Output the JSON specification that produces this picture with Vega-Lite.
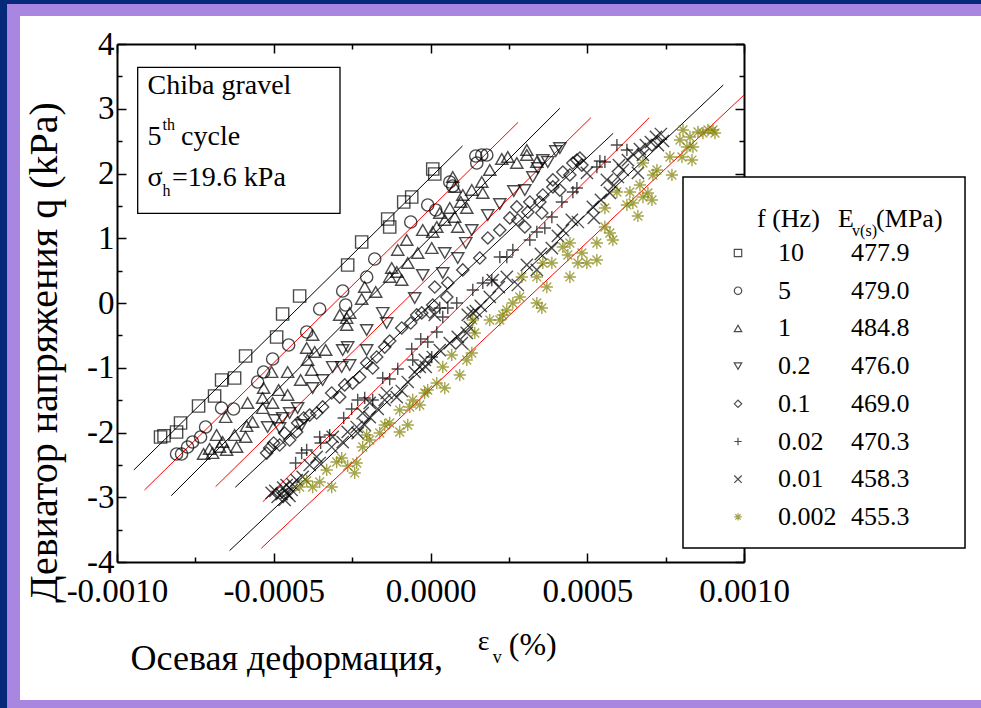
{
"$schema": "https://vega.github.io/schema/vega-lite/v6.json",
"autosize": {"type": "none"},
"width": 627,
"height": 518,
"padding": {"left": 117, "top": 44, "right": 237, "bottom": 146},
"background": "white",
"config": {
 "view": {"stroke": null},
 "axis": {"grid": false, "domainColor": "black", "domainWidth": 2, "tickColor": "black", "tickWidth": 1.5, "labelFont": "Liberation Serif", "labelFontSize": 33, "labelColor": "black", "titleFont": "Liberation Serif", "titleColor": "black", "titleFontWeight": "normal", "labelFlush": false, "labelOverlap": false, "labelBound": false},
 "legend": {"labelFont": "Liberation Serif", "labelColor": "black"},
 "text": {"font": "Liberation Serif", "color": "black"}
},
"resolve": {"axis": {"x": "independent", "y": "independent"}},
"datasets": {
 "fits": [
  {"E": "477.9", "x": -0.0009464, "y": -2.579}, {"E": "477.9", "x": 0.000102, "y": 2.425},
  {"E": "479.0", "x": -0.0009122, "y": -2.888}, {"E": "479.0", "x": 0.0002795, "y": 2.791},
  {"E": "484.8", "x": -0.000827, "y": -2.976}, {"E": "484.8", "x": 0.0004126, "y": 3.007},
  {"E": "476.0", "x": -0.0006856, "y": -2.837}, {"E": "476.0", "x": 0.0005116, "y": 2.862},
  {"E": "469.0", "x": -0.0006227, "y": -2.846}, {"E": "469.0", "x": 0.0005828, "y": 2.621},
  {"E": "470.3", "x": -0.0005346, "y": -3.069}, {"E": "470.3", "x": 0.0006977, "y": 2.862},
  {"E": "458.3", "x": -0.0006409, "y": -3.825}, {"E": "458.3", "x": 0.0009339, "y": 3.367},
  {"E": "455.3", "x": -0.0005397, "y": -3.788}, {"E": "455.3", "x": 0.001, "y": 3.212}
 ],
 "pts": [
  {"f":"10","x":-0.0008611,"y":-2.069},{"f":"10","x":-0.000850,"y":-2.05},{"f":"10","x":-0.00081,"y":-1.992},{"f":"10","x":-0.0007973,"y":-1.853},{"f":"10","x":-0.0007398,"y":-1.591},{"f":"10","x":-0.0006887,"y":-1.436},{"f":"10","x":-0.0006664,"y":-1.189},{"f":"10","x":-0.0006249,"y":-1.158},{"f":"10","x":-0.0005898,"y":-0.819},{"f":"10","x":-0.0004908,"y":-0.525},{"f":"10","x":-0.0004717,"y":-0.17},{"f":"10","x":-0.0004174,"y":0.108},{"f":"10","x":-0.0002642,"y":0.587},{"f":"10","x":-0.0002195,"y":0.942},{"f":"10","x":-0.0001365,"y":1.297},{"f":"10","x":-0.0001301,"y":1.174},{"f":"10","x":-0.0000854,"y":1.56},{"f":"10","x":-0.0000599,"y":1.637},{"f":"10","x":0.0000072,"y":2.069},{"f":"10","x":0.0000136,"y":1.992},
  {"f":"5","x":-0.00081,"y":-2.332},{"f":"5","x":-0.0007941,"y":-2.332},{"f":"5","x":-0.0007749,"y":-2.224},{"f":"5","x":-0.000759,"y":-2.147},{"f":"5","x":-0.0007334,"y":-2.069},{"f":"5","x":-0.0007175,"y":-1.915},{"f":"5","x":-0.0006664,"y":-1.622},{"f":"5","x":-0.0006281,"y":-1.637},{"f":"5","x":-0.0005515,"y":-1.22},{"f":"5","x":-0.0005323,"y":-1.066},{"f":"5","x":-0.0005036,"y":-0.865},{"f":"5","x":-0.0004525,"y":-0.649},{"f":"5","x":-0.000395,"y":-0.448},{"f":"5","x":-0.0003535,"y":-0.093},{"f":"5","x":-0.0002801,"y":0.185},{"f":"5","x":-0.0002706,"y":-0.031},{"f":"5","x":-0.0002035,"y":0.402},{"f":"5","x":-0.000178,"y":0.68},{"f":"5","x":-0.000063,"y":1.251},{"f":"5","x":-0.0000088,"y":1.514},{"f":"5","x":0.0000168,"y":1.436},{"f":"5","x":0.0000615,"y":1.869},{"f":"5","x":0.000071,"y":1.807},{"f":"5","x":0.0001445,"y":2.27},{"f":"5","x":0.0001476,"y":2.162},{"f":"5","x":0.0001636,"y":2.286},{"f":"5","x":0.0001796,"y":2.286},
  {"f":"1","x":-0.0007238,"y":-2.332},{"f":"1","x":-0.0007047,"y":-2.255},{"f":"1","x":-0.0006951,"y":-2.317},{"f":"1","x":-0.0006823,"y":-2.039},{"f":"1","x":-0.0006728,"y":-2.224},{"f":"1","x":-0.0006504,"y":-2.27},{"f":"1","x":-0.0006632,"y":-2.147},{"f":"1","x":-0.0006536,"y":-1.761},{"f":"1","x":-0.0006185,"y":-2.224},{"f":"1","x":-0.0006249,"y":-2.039},{"f":"1","x":-0.0005898,"y":-2.069},{"f":"1","x":-0.0005834,"y":-1.544},{"f":"1","x":-0.0005866,"y":-1.9},{"f":"1","x":-0.0005674,"y":-1.838},{"f":"1","x":-0.0005355,"y":-1.622},{"f":"1","x":-0.0005355,"y":-1.467},{"f":"1","x":-0.0005323,"y":-1.313},{"f":"1","x":-0.0005036,"y":-1.544},{"f":"1","x":-0.0005068,"y":-1.066},{"f":"1","x":-0.0004844,"y":-1.344},{"f":"1","x":-0.0004557,"y":-1.421},{"f":"1","x":-0.0004557,"y":-1.066},{"f":"1","x":-0.0004142,"y":-1.189},{"f":"1","x":-0.0003919,"y":-0.88},{"f":"1","x":-0.0003791,"y":-1.035},{"f":"1","x":-0.000395,"y":-0.695},{"f":"1","x":-0.0003695,"y":-0.757},{"f":"1","x":-0.0003759,"y":-0.494},{"f":"1","x":-0.0003344,"y":-0.726},{"f":"1","x":-0.0002897,"y":-0.185},{"f":"1","x":-0.0002674,"y":-0.232},{"f":"1","x":-0.0002674,"y":-0.34},{"f":"1","x":-0.0002578,"y":-0.154},{"f":"1","x":-0.0002195,"y":0.062},{"f":"1","x":-0.0002099,"y":0.247},{"f":"1","x":-0.0001748,"y":0.17},{"f":"1","x":-0.0001301,"y":0.402},{"f":"1","x":-0.0001237,"y":0.541},{"f":"1","x":-0.0001077,"y":0.479},{"f":"1","x":-0.0000918,"y":0.355},{"f":"1","x":-0.0001045,"y":0.819},{"f":"1","x":-0.0000758,"y":0.973},{"f":"1","x":-0.0000726,"y":0.618},{"f":"1","x":-0.0000407,"y":0.772},{"f":"1","x":-0.0000247,"y":1.127},{"f":"1","x":0.0000072,"y":1.097},{"f":"1","x":0.000004,"y":0.849},{"f":"1","x":0.00002,"y":1.174},{"f":"1","x":0.0000295,"y":1.39},{"f":"1","x":0.0000455,"y":1.282},{"f":"1","x":0.0000615,"y":1.467},{"f":"1","x":0.000087,"y":1.174},{"f":"1","x":0.0000966,"y":1.56},{"f":"1","x":0.000103,"y":1.668},{"f":"1","x":0.000071,"y":1.946},{"f":"1","x":0.0000774,"y":1.792},{"f":"1","x":0.0001157,"y":1.467},{"f":"1","x":0.0001317,"y":1.745},{"f":"1","x":0.0001636,"y":1.869},{"f":"1","x":0.0001668,"y":1.699},{"f":"1","x":0.0001891,"y":2.054},{"f":"1","x":0.0002275,"y":2.224},{"f":"1","x":0.0002466,"y":2.255},{"f":"1","x":0.0002753,"y":2.162},{"f":"1","x":0.0003073,"y":2.363},{"f":"1","x":0.0003073,"y":2.286},{"f":"1","x":0.0003392,"y":2.178},{"f":"1","x":0.0000774,"y":1.328},
  {"f":"0.2","x":-0.0005195,"y":-1.915},{"f":"0.2","x":-0.0004972,"y":-1.807},{"f":"0.2","x":-0.0004717,"y":-1.776},{"f":"0.2","x":-0.0004812,"y":-1.931},{"f":"0.2","x":-0.0004493,"y":-1.699},{"f":"0.2","x":-0.0004238,"y":-1.622},{"f":"0.2","x":-0.000411,"y":-1.884},{"f":"0.2","x":-0.0003759,"y":-1.313},{"f":"0.2","x":-0.000344,"y":-1.189},{"f":"0.2","x":-0.000312,"y":-0.988},{"f":"0.2","x":-0.0002833,"y":-0.988},{"f":"0.2","x":-0.0002578,"y":-0.958},{"f":"0.2","x":-0.0002642,"y":-0.68},{"f":"0.2","x":-0.0002801,"y":-0.726},{"f":"0.2","x":-0.0002035,"y":-0.417},{"f":"0.2","x":-0.0002035,"y":-0.726},{"f":"0.2","x":-0.0001524,"y":-0.154},{"f":"0.2","x":-0.0001397,"y":-0.309},{"f":"0.2","x":-0.0000503,"y":0.077},{"f":"0.2","x":-0.0000247,"y":0.432},{"f":"0.2","x":0.0000455,"y":0.772},{"f":"0.2","x":0.0000391,"y":0.463},{"f":"0.2","x":0.000087,"y":0.695},{"f":"0.2","x":0.0001125,"y":0.927},{"f":"0.2","x":0.0001317,"y":1.127},{"f":"0.2","x":0.0001828,"y":1.359},{"f":"0.2","x":0.0002211,"y":1.529},{"f":"0.2","x":0.0002658,"y":1.73},{"f":"0.2","x":0.0003009,"y":1.745},{"f":"0.2","x":0.0003264,"y":1.946},{"f":"0.2","x":0.0003424,"y":2.085},{"f":"0.2","x":0.0003583,"y":2.208},{"f":"0.2","x":0.0003743,"y":2.178},{"f":"0.2","x":0.0003998,"y":2.347},{"f":"0.2","x":0.0004126,"y":2.394},
  {"f":"0.1","x":-0.0005227,"y":-2.317},{"f":"0.1","x":-0.0005132,"y":-2.239},{"f":"0.1","x":-0.0005004,"y":-2.162},{"f":"0.1","x":-0.0004812,"y":-2.193},{"f":"0.1","x":-0.0004653,"y":-2.008},{"f":"0.1","x":-0.0004493,"y":-2.116},{"f":"0.1","x":-0.000427,"y":-1.992},{"f":"0.1","x":-0.0004238,"y":-1.853},{"f":"0.1","x":-0.0004046,"y":-1.776},{"f":"0.1","x":-0.0003855,"y":-1.73},{"f":"0.1","x":-0.0003631,"y":-1.699},{"f":"0.1","x":-0.000344,"y":-1.606},{"f":"0.1","x":-0.0003152,"y":-1.39},{"f":"0.1","x":-0.0002897,"y":-1.452},{"f":"0.1","x":-0.0002737,"y":-1.266},{"f":"0.1","x":-0.0002482,"y":-1.236},{"f":"0.1","x":-0.0002259,"y":-1.143},{"f":"0.1","x":-0.0002035,"y":-0.927},{"f":"0.1","x":-0.0001844,"y":-1.004},{"f":"0.1","x":-0.0001716,"y":-0.834},{"f":"0.1","x":-0.000146,"y":-0.68},{"f":"0.1","x":-0.0001301,"y":-0.587},{"f":"0.1","x":-0.0000918,"y":-0.386},{"f":"0.1","x":-0.000063,"y":-0.309},{"f":"0.1","x":-0.0000439,"y":-0.185},{"f":"0.1","x":-0.0000279,"y":-0.154},{"f":"0.1","x":-0.0000024,"y":-0.139},{"f":"0.1","x":0.0000072,"y":-0.031},{"f":"0.1","x":0.0000136,"y":0.247},{"f":"0.1","x":0.0000551,"y":0.309},{"f":"0.1","x":0.0000519,"y":0.093},{"f":"0.1","x":0.000103,"y":0.51},{"f":"0.1","x":0.0001572,"y":0.695},{"f":"0.1","x":0.0001828,"y":1.004},{"f":"0.1","x":0.0002211,"y":1.127},{"f":"0.1","x":0.000253,"y":1.313},{"f":"0.1","x":0.0002785,"y":1.282},{"f":"0.1","x":0.0002753,"y":1.483},{"f":"0.1","x":0.0003009,"y":1.174},{"f":"0.1","x":0.0003105,"y":1.405},{"f":"0.1","x":0.0003168,"y":1.56},{"f":"0.1","x":0.0003488,"y":1.56},{"f":"0.1","x":0.0003551,"y":1.39},{"f":"0.1","x":0.0003583,"y":1.668},{"f":"0.1","x":0.0003903,"y":1.9},{"f":"0.1","x":0.0003903,"y":1.792},{"f":"0.1","x":0.0004126,"y":1.745},{"f":"0.1","x":0.0004222,"y":2.023},{"f":"0.1","x":0.0004445,"y":1.977},{"f":"0.1","x":0.0004541,"y":2.162},{"f":"0.1","x":0.0004669,"y":2.208},{"f":"0.1","x":0.0004828,"y":2.131},{"f":"0.1","x":0.0004764,"y":2.239},
  {"f":"0.02","x":-0.0004302,"y":-2.471},{"f":"0.02","x":-0.000411,"y":-2.317},{"f":"0.02","x":-0.000395,"y":-2.27},{"f":"0.02","x":-0.0003535,"y":-2.069},{"f":"0.02","x":-0.0003504,"y":-2.162},{"f":"0.02","x":-0.0003216,"y":-2.039},{"f":"0.02","x":-0.0002769,"y":-1.776},{"f":"0.02","x":-0.0002514,"y":-1.637},{"f":"0.02","x":-0.0002322,"y":-1.498},{"f":"0.02","x":-0.0002099,"y":-1.467},{"f":"0.02","x":-0.0001844,"y":-1.498},{"f":"0.02","x":-0.0001524,"y":-1.158},{"f":"0.02","x":-0.0001301,"y":-1.174},{"f":"0.02","x":-0.0001045,"y":-1.019},{"f":"0.02","x":-0.0000599,"y":-0.71},{"f":"0.02","x":-0.0000567,"y":-0.88},{"f":"0.02","x":-0.0000311,"y":-0.556},{"f":"0.02","x":-0.0000088,"y":-0.602},{"f":"0.02","x":0.000004,"y":-0.834},{"f":"0.02","x":0.00002,"y":-0.448},{"f":"0.02","x":0.0000391,"y":-0.216},{"f":"0.02","x":0.0000551,"y":-0.077},{"f":"0.02","x":0.0000838,"y":0.0},{"f":"0.02","x":0.0000295,"y":-0.077},{"f":"0.02","x":0.0001349,"y":0.201},{"f":"0.02","x":0.0001668,"y":0.309},{"f":"0.02","x":0.0001955,"y":0.355},{"f":"0.02","x":0.0002211,"y":0.71},{"f":"0.02","x":0.0002434,"y":0.71},{"f":"0.02","x":0.0002626,"y":0.819},{"f":"0.02","x":0.0003168,"y":0.973},{"f":"0.02","x":0.0003392,"y":1.097},{"f":"0.02","x":0.0003647,"y":1.158},{"f":"0.02","x":0.0003871,"y":1.328},{"f":"0.02","x":0.000419,"y":1.56},{"f":"0.02","x":0.0004541,"y":1.714},{"f":"0.02","x":0.0004669,"y":1.776},{"f":"0.02","x":0.0005307,"y":2.1},{"f":"0.02","x":0.0005563,"y":2.178},{"f":"0.02","x":0.0005946,"y":2.44},{"f":"0.02","x":0.0006265,"y":2.363},{"f":"0.02","x":0.0005403,"y":2.193},
  {"f":"0.01","x":-0.0005068,"y":-2.934},{"f":"0.01","x":-0.0004876,"y":-2.996},{"f":"0.01","x":-0.0004653,"y":-3.042},{"f":"0.01","x":-0.0004589,"y":-2.934},{"f":"0.01","x":-0.0004429,"y":-2.888},{"f":"0.01","x":-0.000427,"y":-2.734},{"f":"0.01","x":-0.0004078,"y":-2.687},{"f":"0.01","x":-0.0003855,"y":-2.502},{"f":"0.01","x":-0.0003631,"y":-2.378},{"f":"0.01","x":-0.0004589,"y":-2.811},{"f":"0.01","x":-0.000495,"y":-2.9},{"f":"0.01","x":-0.000475,"y":-2.95},{"f":"0.01","x":-0.00045,"y":-2.98},{"f":"0.01","x":-0.00044,"y":-2.8},{"f":"0.01","x":-0.00047,"y":-2.85},{"f":"0.01","x":-0.0003535,"y":-2.471},{"f":"0.01","x":-0.0003152,"y":-2.224},{"f":"0.01","x":-0.000312,"y":-2.069},{"f":"0.01","x":-0.0002801,"y":-2.147},{"f":"0.01","x":-0.0002642,"y":-1.992},{"f":"0.01","x":-0.0002354,"y":-1.915},{"f":"0.01","x":-0.0002322,"y":-2.008},{"f":"0.01","x":-0.0002163,"y":-1.699},{"f":"0.01","x":-0.0002099,"y":-1.884},{"f":"0.01","x":-0.0001939,"y":-1.544},{"f":"0.01","x":-0.0001939,"y":-1.761},{"f":"0.01","x":-0.0001684,"y":-1.637},{"f":"0.01","x":-0.000146,"y":-1.498},{"f":"0.01","x":-0.0001397,"y":-1.39},{"f":"0.01","x":-0.0001077,"y":-1.452},{"f":"0.01","x":-0.0000918,"y":-1.359},{"f":"0.01","x":-0.0000726,"y":-1.22},{"f":"0.01","x":-0.0000503,"y":-1.066},{"f":"0.01","x":-0.0000343,"y":-0.988},{"f":"0.01","x":-0.0000184,"y":-0.88},{"f":"0.01","x":-0.0000152,"y":-0.988},{"f":"0.01","x":0.0000072,"y":-0.834},{"f":"0.01","x":0.0000295,"y":-0.726},{"f":"0.01","x":0.0000615,"y":-0.618},{"f":"0.01","x":0.000087,"y":-0.525},{"f":"0.01","x":0.0000998,"y":-0.618},{"f":"0.01","x":0.0001157,"y":-0.463},{"f":"0.01","x":0.0001253,"y":-0.371},{"f":"0.01","x":0.0001349,"y":-0.154},{"f":"0.01","x":0.0000136,"y":-0.185},{"f":"0.01","x":0.0001189,"y":-0.185},{"f":"0.01","x":0.0001445,"y":-0.124},{"f":"0.01","x":0.0001604,"y":-0.046},{"f":"0.01","x":0.0001891,"y":0.093},{"f":"0.01","x":0.0001987,"y":0.355},{"f":"0.01","x":0.0002179,"y":0.247},{"f":"0.01","x":0.0002434,"y":0.402},{"f":"0.01","x":0.0002785,"y":0.278},{"f":"0.01","x":0.0003073,"y":0.587},{"f":"0.01","x":0.0003392,"y":0.51},{"f":"0.01","x":0.000352,"y":0.757},{"f":"0.01","x":0.0003871,"y":0.849},{"f":"0.01","x":0.0004062,"y":1.035},{"f":"0.01","x":0.0004222,"y":1.127},{"f":"0.01","x":0.0004509,"y":1.282},{"f":"0.01","x":0.0004701,"y":1.251},{"f":"0.01","x":0.0005179,"y":1.483},{"f":"0.01","x":0.0005211,"y":1.313},{"f":"0.01","x":0.0005435,"y":1.591},{"f":"0.01","x":0.0005626,"y":1.9},{"f":"0.01","x":0.0005722,"y":1.699},{"f":"0.01","x":0.000585,"y":1.822},{"f":"0.01","x":0.0005977,"y":1.946},{"f":"0.01","x":0.0006009,"y":2.131},{"f":"0.01","x":0.0006137,"y":2.054},{"f":"0.01","x":0.0006297,"y":2.208},{"f":"0.01","x":0.0006456,"y":2.301},{"f":"0.01","x":0.0006616,"y":2.008},{"f":"0.01","x":0.000668,"y":2.378},{"f":"0.01","x":0.0006775,"y":2.286},{"f":"0.01","x":0.0006871,"y":2.44},{"f":"0.01","x":0.0007031,"y":2.486},{"f":"0.01","x":0.0007191,"y":2.564},{"f":"0.01","x":0.0007254,"y":2.44},{"f":"0.01","x":0.000735,"y":2.61},{"f":"0.01","x":0.0007414,"y":2.502},{"f":"0.01","x":0.0004988,"y":2.008},
  {"f":"0.002","x":-0.0004174,"y":-2.842},{"f":"0.002","x":-0.000395,"y":-2.749},{"f":"0.002","x":-0.0003759,"y":-2.842},{"f":"0.002","x":-0.0003535,"y":-2.764},{"f":"0.002","x":-0.0003312,"y":-2.579},{"f":"0.002","x":-0.0003152,"y":-2.842},{"f":"0.002","x":-0.0002993,"y":-2.456},{"f":"0.002","x":-0.0002833,"y":-2.394},{"f":"0.002","x":-0.0002642,"y":-2.517},{"f":"0.002","x":-0.0002418,"y":-2.625},{"f":"0.002","x":-0.0002354,"y":-2.471},{"f":"0.002","x":-0.0002163,"y":-2.224},{"f":"0.002","x":-0.0002035,"y":-2.039},{"f":"0.002","x":-0.0001939,"y":-2.116},{"f":"0.002","x":-0.000162,"y":-2.008},{"f":"0.002","x":-0.000146,"y":-1.884},{"f":"0.002","x":-0.0001301,"y":-1.853},{"f":"0.002","x":-0.0000982,"y":-1.992},{"f":"0.002","x":-0.0000982,"y":-1.653},{"f":"0.002","x":-0.0000726,"y":-1.884},{"f":"0.002","x":-0.0000662,"y":-1.606},{"f":"0.002","x":-0.0000567,"y":-1.498},{"f":"0.002","x":-0.0000343,"y":-1.575},{"f":"0.002","x":-0.0000184,"y":-1.39},{"f":"0.002","x":-0.0000088,"y":-1.344},{"f":"0.002","x":0.00002,"y":-1.236},{"f":"0.002","x":0.0000391,"y":-0.988},{"f":"0.002","x":0.0000455,"y":-1.313},{"f":"0.002","x":0.0000678,"y":-0.803},{"f":"0.002","x":0.0000934,"y":-1.112},{"f":"0.002","x":0.0001157,"y":-0.88},{"f":"0.002","x":0.0001317,"y":-0.772},{"f":"0.002","x":0.0001413,"y":-0.463},{"f":"0.002","x":0.0001349,"y":-0.263},{"f":"0.002","x":0.0001891,"y":-0.263},{"f":"0.002","x":0.0002211,"y":-0.263},{"f":"0.002","x":0.0002306,"y":-0.185},{"f":"0.002","x":0.0002434,"y":-0.108},{"f":"0.002","x":0.0002626,"y":0.0},{"f":"0.002","x":0.0002849,"y":0.093},{"f":"0.002","x":0.0002913,"y":0.402},{"f":"0.002","x":0.0003392,"y":0.402},{"f":"0.002","x":0.0003392,"y":0.0},{"f":"0.002","x":0.0003551,"y":-0.077},{"f":"0.002","x":0.0003711,"y":0.247},{"f":"0.002","x":0.0003583,"y":0.618},{"f":"0.002","x":0.0003871,"y":0.618},{"f":"0.002","x":0.0004222,"y":0.865},{"f":"0.002","x":0.0004381,"y":0.741},{"f":"0.002","x":0.0004445,"y":0.927},{"f":"0.002","x":0.0004445,"y":0.402},{"f":"0.002","x":0.0004701,"y":0.618},{"f":"0.002","x":0.0004828,"y":0.772},{"f":"0.002","x":0.0004988,"y":0.618},{"f":"0.002","x":0.0005307,"y":0.664},{"f":"0.002","x":0.0005307,"y":0.927},{"f":"0.002","x":0.0005563,"y":1.174},{"f":"0.002","x":0.0005563,"y":1.467},{"f":"0.002","x":0.0005722,"y":1.081},{"f":"0.002","x":0.0005818,"y":0.973},{"f":"0.002","x":0.0005946,"y":1.714},{"f":"0.002","x":0.0006265,"y":1.514},{"f":"0.002","x":0.0006361,"y":1.714},{"f":"0.002","x":0.0006456,"y":1.544},{"f":"0.002","x":0.0006616,"y":1.344},{"f":"0.002","x":0.000668,"y":1.822},{"f":"0.002","x":0.0006776,"y":1.637},{"f":"0.002","x":0.0006776,"y":2.162},{"f":"0.002","x":0.0006935,"y":1.699},{"f":"0.002","x":0.0007063,"y":1.591},{"f":"0.002","x":0.0007095,"y":1.977},{"f":"0.002","x":0.0007223,"y":2.054},{"f":"0.002","x":0.0007638,"y":2.255},{"f":"0.002","x":0.0007701,"y":1.977},{"f":"0.002","x":0.0007957,"y":2.517},{"f":"0.002","x":0.0008021,"y":2.255},{"f":"0.002","x":0.0008053,"y":2.672},{"f":"0.002","x":0.000818,"y":2.409},{"f":"0.002","x":0.0008276,"y":2.564},{"f":"0.002","x":0.000834,"y":2.208},{"f":"0.002","x":0.0008372,"y":2.409},{"f":"0.002","x":0.0008531,"y":2.641},{"f":"0.002","x":0.0008691,"y":2.625},{"f":"0.002","x":0.0008851,"y":2.672},{"f":"0.002","x":0.000901,"y":2.672},{"f":"0.002","x":0.0009074,"y":2.625}
 ]
},
"layer": [
 {"data": {"values": [{}]}, "mark": {"type": "rect", "fill": "#06297a"},
  "encoding": {"x": {"datum": -0.0016, "type": "quantitative", "axis": null}, "x2": {"datum": 0.003}, "y": {"datum": 5.5, "type": "quantitative", "axis": null}, "y2": {"datum": 4.618}}},
 {"data": {"values": [{}]}, "mark": {"type": "rect", "fill": "#06297a"},
  "encoding": {"x": {"datum": -0.0016, "type": "quantitative", "axis": null}, "x2": {"datum": -0.0013493}, "y": {"datum": 5.5, "type": "quantitative", "axis": null}, "y2": {"datum": -9}}},
 {"data": {"values": [{}]}, "mark": {"type": "rect", "fill": "#a987e0"},
  "encoding": {"x": {"datum": -0.0013493, "type": "quantitative", "axis": null}, "x2": {"datum": 0.003}, "y": {"datum": 4.618, "type": "quantitative", "axis": null}, "y2": {"datum": 4.432}}},
 {"data": {"values": [{}]}, "mark": {"type": "rect", "fill": "#a987e0"},
  "encoding": {"x": {"datum": -0.0013493, "type": "quantitative", "axis": null}, "x2": {"datum": -0.0013094}, "y": {"datum": 4.618, "type": "quantitative", "axis": null}, "y2": {"datum": -9}}},
 {"data": {"values": [{}]}, "mark": {"type": "rect", "fill": "#a987e0"},
  "encoding": {"x": {"datum": -0.0013493, "type": "quantitative", "axis": null}, "x2": {"datum": 0.003}, "y": {"datum": -6.131, "type": "quantitative", "axis": null}, "y2": {"datum": -9}}},
 {"data": {"values": [{}]}, "mark": {"type": "rect", "fill": "white", "stroke": "black", "strokeWidth": 1.3},
  "encoding": {"x": {"datum": -0.000934, "type": "quantitative", "axis": null}, "x2": {"datum": -0.0002887}, "y": {"datum": 3.64, "type": "quantitative", "axis": null}, "y2": {"datum": 1.385}}},
 {"data": {"name": "fits"}, "mark": {"type": "line", "strokeWidth": 1},
  "encoding": {
   "x": {"field": "x", "type": "quantitative", "scale": {"domain": [-0.001, 0.001], "nice": false, "zero": false},
     "axis": {"orient": "top", "values": [-0.001,-0.00075,-0.0005,-0.00025,0,0.00025,0.0005,0.00075,0.001], "labels": false, "title": null,
       "tickSize": {"condition": {"test": "abs(datum.value*2000-round(datum.value*2000))<0.01", "value": -9}, "value": -5}}},
   "y": {"field": "y", "type": "quantitative", "scale": {"domain": [-4, 4], "nice": false, "zero": false},
     "axis": {"orient": "right", "values": [-4,-3.5,-3,-2.5,-2,-1.5,-1,-0.5,0,0.5,1,1.5,2,2.5,3,3.5,4], "labels": false, "title": null,
       "tickSize": {"condition": {"test": "datum.value==round(datum.value)", "value": -9}, "value": -5}}},
   "color": {"field": "E", "type": "nominal", "scale": {"domain": ["477.9","479.0","484.8","476.0","469.0","470.3","458.3","455.3"], "range": ["black","#ff0000","black","#ff0000","black","#ff0000","black","#ff0000"]},
     "legend": {"orient": "none", "legendX": 708, "legendY": 196, "title": null, "padding": 0, "labelFontSize": 26, "symbolType": "circle", "symbolSize": 1, "symbolOpacity": 0, "symbolStrokeWidth": 0, "labelOffset": 0, "rowPadding": 11.7}}
  }},
 {"data": {"name": "pts"}, "mark": {"type": "point", "filled": false, "strokeWidth": 1.4, "size": 150},
  "encoding": {
   "x": {"field": "x", "type": "quantitative", "scale": {"domain": [-0.001, 0.001], "nice": false, "zero": false},
     "axis": {"orient": "bottom", "values": [-0.001,-0.00075,-0.0005,-0.00025,0,0.00025,0.0005,0.00075,0.001], "title": null, "labelPadding": 22,
       "labelExpr": "abs(datum.value*2000-round(datum.value*2000))<0.01 ? replace(format(datum.value,'.4f'),'\u2212','-') : ''",
       "tickSize": {"condition": {"test": "abs(datum.value*2000-round(datum.value*2000))<0.01", "value": -9}, "value": -5}}},
   "y": {"field": "y", "type": "quantitative", "scale": {"domain": [-4, 4], "nice": false, "zero": false},
     "axis": {"orient": "left", "values": [-4,-3.5,-3,-2.5,-2,-1.5,-1,-0.5,0,0.5,1,1.5,2,2.5,3,3.5,4], "labelPadding": 12,
       "labelExpr": "datum.value==round(datum.value) ? replace(format(datum.value,'d'),'\u2212','-') : ''",
       "tickSize": {"condition": {"test": "datum.value==round(datum.value)", "value": -9}, "value": -5},
       "title": "Девиатор напряжения q (kPa)", "titleFontSize": 40, "titleX": -61, "titleY": 308, "titleAngle": 270, "titleBaseline": "alphabetic", "titleAlign": "center"}},
   "shape": {"field": "f", "type": "nominal", "scale": {"domain": ["10","5","1","0.2","0.1","0.02","0.01","0.002"], "range": ["square","circle","triangle-up","triangle-down","diamond","M-1,0L1,0M0,-1L0,1","M-1,-1L1,1M-1,1L1,-1","M-1,0L1,0M0,-1L0,1M-0.72,-0.72L0.72,0.72M-0.72,0.72L0.72,-0.72"]},
     "legend": {"orient": "none", "legendX": 608, "legendY": 196, "title": null, "padding": 0, "labelFontSize": 26, "symbolSize": 55, "symbolStrokeWidth": 1.2, "labelOffset": 27, "rowPadding": 11.7}},
   "stroke": {"field": "f", "type": "nominal", "scale": {"domain": ["10","5","1","0.2","0.1","0.02","0.01","0.002"], "range": ["black","black","black","black","black","black","black","#808000"]},
     "legend": {"orient": "none", "legendX": 608, "legendY": 196, "title": null, "padding": 0, "labelFontSize": 26, "symbolSize": 55, "symbolStrokeWidth": 1.2, "labelOffset": 27, "rowPadding": 11.7}}
  }},
 {"data": {"values": [{}]}, "mark": {"type": "rect", "fill": "white", "stroke": "black", "strokeWidth": 1.5},
  "encoding": {"x": {"datum": 0.0008054, "type": "quantitative", "axis": null}, "x2": {"datum": 0.001705}, "y": {"datum": 1.946, "type": "quantitative", "axis": null}, "y2": {"datum": -3.784}}},
 {"data": {"values": [{}]}, "mark": {"type": "text", "align": "left", "baseline": "alphabetic", "fontSize": 28},
  "encoding": {"x": {"datum": -0.0009026, "type": "quantitative", "axis": null}, "y": {"datum": 3.228, "type": "quantitative", "axis": null}, "text": {"value": "Chiba gravel"}}},
 {"data": {"values": [{}]}, "mark": {"type": "text", "align": "left", "baseline": "alphabetic", "fontSize": 28},
  "encoding": {"x": {"datum": -0.0009026, "type": "quantitative", "axis": null}, "y": {"datum": 2.44, "type": "quantitative", "axis": null}, "text": {"value": "5"}}},
 {"data": {"values": [{}]}, "mark": {"type": "text", "align": "left", "baseline": "alphabetic", "fontSize": 16},
  "encoding": {"x": {"datum": -0.0008547, "type": "quantitative", "axis": null}, "y": {"datum": 2.672, "type": "quantitative", "axis": null}, "text": {"value": "th"}}},
 {"data": {"values": [{}]}, "mark": {"type": "text", "align": "left", "baseline": "alphabetic", "fontSize": 28},
  "encoding": {"x": {"datum": -0.0007957, "type": "quantitative", "axis": null}, "y": {"datum": 2.44, "type": "quantitative", "axis": null}, "text": {"value": "cycle"}}},
 {"data": {"values": [{}]}, "mark": {"type": "text", "align": "left", "baseline": "alphabetic", "fontSize": 28},
  "encoding": {"x": {"datum": -0.0009026, "type": "quantitative", "axis": null}, "y": {"datum": 1.807, "type": "quantitative", "axis": null}, "text": {"value": "σ"}}},
 {"data": {"values": [{}]}, "mark": {"type": "text", "align": "left", "baseline": "alphabetic", "fontSize": 16},
  "encoding": {"x": {"datum": -0.0008547, "type": "quantitative", "axis": null}, "y": {"datum": 1.653, "type": "quantitative", "axis": null}, "text": {"value": "h"}}},
 {"data": {"values": [{}]}, "mark": {"type": "text", "align": "left", "baseline": "alphabetic", "fontSize": 28},
  "encoding": {"x": {"datum": -0.0008244, "type": "quantitative", "axis": null}, "y": {"datum": 1.807, "type": "quantitative", "axis": null}, "text": {"value": "=19.6 kPa"}}},
 {"data": {"values": [{}]}, "mark": {"type": "text", "align": "left", "baseline": "alphabetic", "fontSize": 36},
  "encoding": {"x": {"datum": -0.0009569, "type": "quantitative", "axis": null}, "y": {"datum": -5.668, "type": "quantitative", "axis": null}, "text": {"value": "Осевая деформация,"}}},
 {"data": {"values": [{}]}, "mark": {"type": "text", "align": "left", "baseline": "alphabetic", "fontSize": 28},
  "encoding": {"x": {"datum": 0.0001508, "type": "quantitative", "axis": null}, "y": {"datum": -5.359, "type": "quantitative", "axis": null}, "text": {"value": "ε"}}},
 {"data": {"values": [{}]}, "mark": {"type": "text", "align": "left", "baseline": "alphabetic", "fontSize": 18},
  "encoding": {"x": {"datum": 0.0001987, "type": "quantitative", "axis": null}, "y": {"datum": -5.56, "type": "quantitative", "axis": null}, "text": {"value": "v"}}},
 {"data": {"values": [{}]}, "mark": {"type": "text", "align": "left", "baseline": "alphabetic", "fontSize": 32},
  "encoding": {"x": {"datum": 0.0002498, "type": "quantitative", "axis": null}, "y": {"datum": -5.436, "type": "quantitative", "axis": null}, "text": {"value": "(%)"}}},
 {"data": {"values": [{}]}, "mark": {"type": "text", "align": "left", "baseline": "alphabetic", "fontSize": 26},
  "encoding": {"x": {"datum": 0.0010415, "type": "quantitative", "axis": null}, "y": {"datum": 1.174, "type": "quantitative", "axis": null}, "text": {"value": "f (Hz)"}}},
 {"data": {"values": [{}]}, "mark": {"type": "text", "align": "left", "baseline": "alphabetic", "fontSize": 26},
  "encoding": {"x": {"datum": 0.0013001, "type": "quantitative", "axis": null}, "y": {"datum": 1.174, "type": "quantitative", "axis": null}, "text": {"value": "E"}}},
 {"data": {"values": [{}]}, "mark": {"type": "text", "align": "left", "baseline": "alphabetic", "fontSize": 16},
  "encoding": {"x": {"datum": 0.0013448, "type": "quantitative", "axis": null}, "y": {"datum": 1.035, "type": "quantitative", "axis": null}, "text": {"value": "v(s)"}}},
 {"data": {"values": [{}]}, "mark": {"type": "text", "align": "left", "baseline": "alphabetic", "fontSize": 26},
  "encoding": {"x": {"datum": 0.0014214, "type": "quantitative", "axis": null}, "y": {"datum": 1.174, "type": "quantitative", "axis": null}, "text": {"value": "(MPa)"}}}
]
}
